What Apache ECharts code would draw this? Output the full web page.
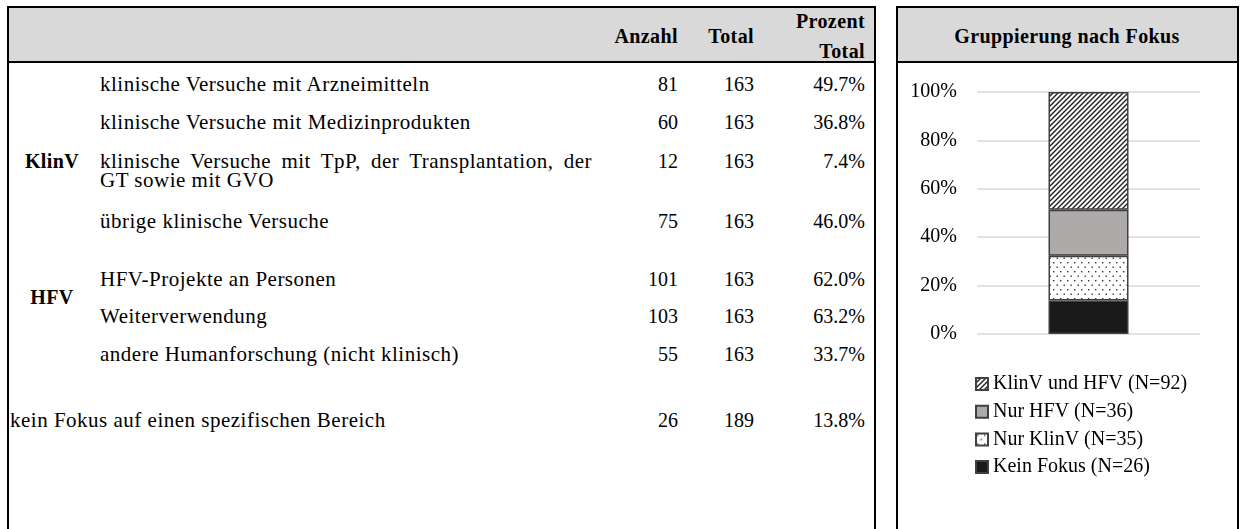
<!DOCTYPE html>
<html>
<head>
<meta charset="utf-8">
<script src="https://cdn.jsdelivr.net/npm/echarts/dist/echarts.min.js"></script>
<style>
    body { margin: 0; width: 1240px; height: 529px; overflow: hidden; background: #fff;
           font-family: "Liberation Serif", serif; font-size: 20px; color: #000; }
    .panel { position: absolute; top: 6px; height: 540px; box-sizing: border-box;
             border: 2px solid #000; border-bottom: none; }
    .head { position: absolute; left: 0; right: 0; top: 0; height: 55px; box-sizing: border-box;
            background: #d9d9d9; border-bottom: 2px solid #000; }
    .t { position: absolute; line-height: 20px; white-space: nowrap; }
    .b { font-weight: bold; letter-spacing: 0.4px; }
    .d { font-size: 21px; letter-spacing: 0.5px; }
    #chart { position: absolute; left: 898px; top: 63px; width: 339px; height: 466px; }
</style>
</head>
<body>
<div class="panel" style="left:7px;width:869px"><div class="head"></div></div>
<div class="panel" style="left:896px;width:343px"><div class="head"></div></div>
<div id="chart"></div>
<script>
// Tabelle
const spalten = ['Anzahl', 'Total', 'Prozent\nTotal'];
const gruppen = ['KlinV', 'HFV'];
const zeilen = [
    'klinische Versuche mit Arzneimitteln',
    'klinische Versuche mit Medizinprodukten',
    'klinische Versuche mit TpP, der Transplantation, der\nGT sowie mit GVO',
    'übrige klinische Versuche',
    'HFV-Projekte an Personen',
    'Weiterverwendung',
    'andere Humanforschung (nicht klinisch)',
    'kein Fokus auf einen spezifischen Bereich'
];
const anzahl = [81, 60, 12, 75, 101, 103, 55, 26];
const total = [163, 163, 163, 163, 163, 163, 163, 189];
const prozent = ['49.7%', '36.8%', '7.4%', '46.0%', '62.0%', '63.2%', '33.7%', '13.8%'];

// Diagramm
const titel = 'Gruppierung nach Fokus';
const kategorien = ['Kein Fokus (N=26)', 'Nur KlinV (N=35)', 'Nur HFV (N=36)', 'KlinV und HFV (N=92)'];
const anteile = [13.8, 18.5, 19.0, 48.7];

// Layout (Seitenkoordinaten)
const zeileY = [85, 123, 162, 222, 280, 317, 355, 421];
const einzug = [100, 100, 100, 100, 100, 100, 100, 10];
const gruppeY = [162, 298];
const spalteRechts = [678, 754, 865];

function text(str, x, y, opt) {
    opt = opt || {};
    const el = document.createElement('div');
    el.className = 't' + (opt.bold ? ' b' : '') + (opt.desc ? ' d' : '');
    el.textContent = str;
    el.style.top = (y - 11) + 'px';
    if (opt.align === 'right') el.style.right = (1240 - x) + 'px';
    else if (opt.align === 'center') { el.style.left = (x - 200) + 'px'; el.style.width = '400px'; el.style.textAlign = 'center'; }
    else el.style.left = x + 'px';
    if (opt.justify) { el.style.width = opt.justify + 'px'; el.style.textAlign = 'justify'; el.style.textAlignLast = 'justify'; el.style.whiteSpace = 'normal'; }
    document.body.appendChild(el);
}

spalten.forEach((s, i) => {
    const teile = s.split('\n');
    if (teile.length === 1) text(s, spalteRechts[i], 37, { align: 'right', bold: true });
    else teile.forEach((t, j) => text(t, spalteRechts[i], 22 + j * 30, { align: 'right', bold: true }));
});
gruppen.forEach((g, i) => text(g, 52, gruppeY[i], { align: 'center', bold: true }));
zeilen.forEach((z, i) => {
    const teile = z.split('\n');
    teile.forEach((t, j) => text(t, einzug[i], zeileY[i] + j * 19,
        j < teile.length - 1 ? { justify: 492, desc: true } : { desc: true }));
    text(String(anzahl[i]), spalteRechts[0], zeileY[i], { align: 'right' });
    text(String(total[i]), spalteRechts[1], zeileY[i], { align: 'right' });
    text(prozent[i], spalteRechts[2], zeileY[i], { align: 'right' });
});
text(titel, 1067, 37, { align: 'center', bold: true });

// Muster für die Balken
function schraffur() {
    const c = document.createElement('canvas');
    c.width = c.height = 5;
    const ctx = c.getContext('2d');
    ctx.fillStyle = '#fff';
    ctx.fillRect(0, 0, 5, 5);
    ctx.strokeStyle = '#1e1e1e';
    ctx.lineWidth = 1.4;
    ctx.beginPath();
    ctx.moveTo(-1, 6); ctx.lineTo(6, -1);
    ctx.moveTo(-1, 1); ctx.lineTo(1, -1);
    ctx.moveTo(4, 6); ctx.lineTo(6, 4);
    ctx.stroke();
    return { image: c, repeat: 'repeat' };
}
function punkte() {
    const c = document.createElement('canvas');
    c.width = 7; c.height = 9;
    const ctx = c.getContext('2d');
    ctx.fillStyle = '#fff';
    ctx.fillRect(0, 0, 7, 9);
    ctx.fillStyle = '#333';
    ctx.fillRect(1, 1, 1.4, 1.4);
    ctx.fillRect(4.5, 5.5, 1.4, 1.4);
    return { image: c, repeat: 'repeat' };
}
const fuellungen = ['#1a1a1a', punkte(), '#aeaaaa', schraffur()];

const chart = echarts.init(document.getElementById('chart'));
chart.setOption({
    animation: false,
    textStyle: { fontFamily: 'Liberation Serif' },
    grid: { left: 79, right: 37, top: 29, bottom: 195 },
    legend: {
        data: kategorien.slice().reverse(),
        orient: 'vertical',
        left: 72,
        top: 306,
        icon: 'rect',
        itemWidth: 12,
        itemHeight: 12,
        itemGap: 7.7,
        textStyle: { fontSize: 20, color: '#000', fontFamily: 'Liberation Serif', lineHeight: 20 }
    },
    xAxis: {
        type: 'category',
        data: [''],
        axisLine: { show: false },
        axisTick: { show: false },
        axisLabel: { show: false }
    },
    yAxis: {
        type: 'value',
        min: 0,
        max: 100,
        interval: 20,
        axisLabel: { formatter: '{value}%', fontSize: 20, color: '#000', margin: 20, fontFamily: 'Liberation Serif' },
        splitLine: { lineStyle: { color: '#d9d9d9', width: 1.5 } }
    },
    series: kategorien.map((k, i) => ({
        name: k,
        type: 'bar',
        stack: 'fokus',
        barWidth: 80,
        data: [anteile[i]],
        itemStyle: { color: fuellungen[i], borderColor: '#404040', borderWidth: 1.5 }
    }))
});
</script>
</body>
</html>
